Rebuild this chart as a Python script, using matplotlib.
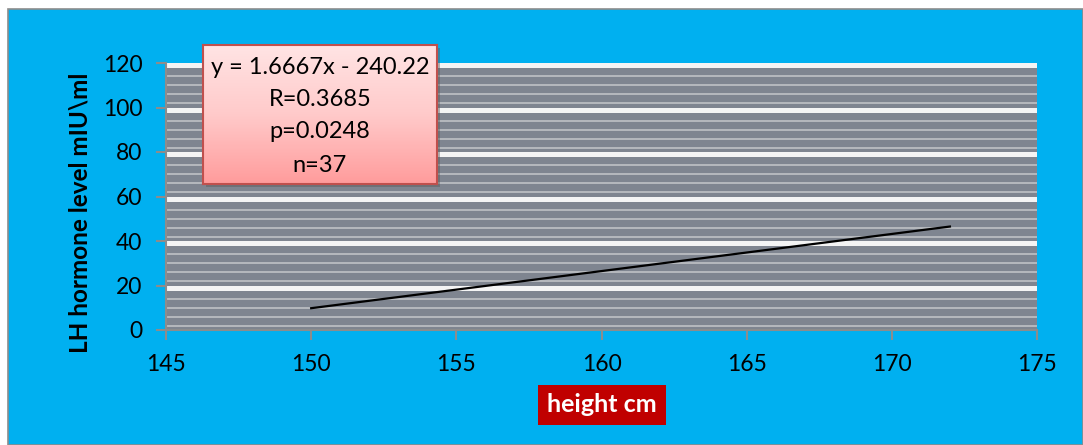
import numpy as np
import matplotlib.pyplot as plt
from matplotlib.patches import Rectangle
from matplotlib.colors import LinearSegmentedColormap

# data
trend_x = [150, 172]
trend_y = [9.8, 46.5]
xticks = [145, 150, 155, 160, 165, 170, 175]
yticks = [0, 20, 40, 60, 80, 100, 120]
box_lines = ["y = 1.6667x - 240.22", "R=0.3685", "p=0.0248", "n=37"]

W, H = 1083, 445
plt.rcParams['font.family'] = ['Lato', 'DejaVu Sans']

fig = plt.figure(figsize=(W / 100, H / 100), dpi=100)
fig.patch.set_facecolor('white')

# blue chart area with grey frame
fig.patches.append(Rectangle((8 / W, 0), 1 - 8 / W, 1 - 9 / H, transform=fig.transFigure,
                             facecolor='#00b0f0', edgecolor='#8c8c8c', lw=1.2, zorder=-5))

ax = fig.add_axes([166 / W, 1 - 330 / H, (1037 - 166) / W, (330 - 63) / H], zorder=1)
ax.set_facecolor('#7f8590')

# striped pattern fill
for y in np.arange(2, 120, 4):
    if (y + 2) % 20 == 0:
        ax.axhspan(y - 0.3, y + 1.8, color='#f4f4f4', lw=0, zorder=0)
    else:
        ax.axhspan(y - 0.45, y + 0.45, color='#b4b7bc', lw=0, zorder=0)

ax.plot(trend_x, trend_y, color='black', lw=1.6, zorder=3)

ax.set_xlim(145, 175)
ax.set_ylim(0, 120)
ax.set_xticks(xticks)
ax.set_yticks(yticks)
for s in ['top', 'right']:
    ax.spines[s].set_visible(False)
for s in ['left', 'bottom']:
    ax.spines[s].set_color('#8c8c8c')
    ax.spines[s].set_linewidth(1.5)
ax.tick_params(axis='both', colors='#8c8c8c', length=7, width=1.5, labelsize=16.5, labelcolor='black')
ax.tick_params(axis='y', pad=10)
ax.tick_params(axis='x', pad=10)

ax.set_ylabel("LH hormone level mIU\\ml", fontsize=17.5, fontweight='bold', va='center')
ax.yaxis.set_label_coords((80 - 166) / 871, (330 - 213) / 267)

# x label in red box
fig.text(602 / W, 1 - 405 / H, "height cm", ha='center', va='center', fontsize=18,
         fontweight='bold', color='white',
         bbox=dict(boxstyle='square,pad=0.35', facecolor='#c00000', edgecolor='none'))

# equation box with gradient fill and shadow
bx0, bx1, by0, by1 = 203, 437, 45, 184
fig.patches.append(Rectangle(((bx0 + 3) / W, 1 - (by1 + 3) / H), (bx1 - bx0) / W, (by1 - by0) / H,
                             transform=fig.transFigure, facecolor='#5a5a5a', alpha=0.45,
                             edgecolor='none', zorder=4))
bax = fig.add_axes([bx0 / W, 1 - by1 / H, (bx1 - bx0) / W, (by1 - by0) / H], zorder=5)
grad = np.linspace(0, 1, 100)[:, None]
cmap = LinearSegmentedColormap.from_list('pk', ['#ffe4e4', '#ffcaca', '#ff9c9c'])
bax.imshow(grad, aspect='auto', cmap=cmap, extent=[0, 1, 0, 1], origin='upper')
bax.set_xlim(0, 1)
bax.set_ylim(0, 1)
bax.set_xticks([])
bax.set_yticks([])
for s in bax.spines.values():
    s.set_color('#c0504d')
    s.set_linewidth(1.5)
for i, t in enumerate(box_lines):
    py = [68, 100, 132, 165][i]
    bax.text(0.5, (by1 - py) / (by1 - by0), t, ha='center', va='center', fontsize=17,
             color='black')

fig.savefig('out.png', dpi=100)
